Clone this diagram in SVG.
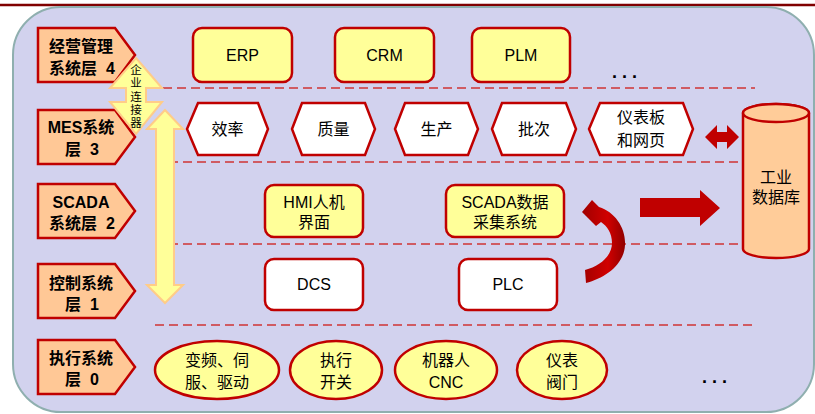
<svg xmlns="http://www.w3.org/2000/svg" width="815" height="414" viewBox="0 0 815 414">
<style>
text{font-family:"Liberation Sans","Noto Sans CJK SC",sans-serif;fill:#000;text-anchor:middle}
.lt{font-size:16px;font-weight:bold;white-space:pre}
.nt{font-size:16px}
.dots{font-size:18px;font-weight:bold;letter-spacing:5px}
.lbl{fill:#FFC896;stroke:#C00000;stroke-width:2.5;stroke-linejoin:miter}
.yb{fill:#FFFF99;stroke:#C00000;stroke-width:2.5}
.wb{fill:#FFFFFF;stroke:#C00000;stroke-width:2.5}
.dash{stroke:#D03535;stroke-width:1.5;stroke-dasharray:9 5;fill:none}
.ya{fill:#FFFF99;stroke:#FFCC88;stroke-width:2}
.ra{fill:#C00000}
</style>
<defs>
<linearGradient id="cg" x1="0" y1="0" x2="1" y2="0">
<stop offset="0" stop-color="#A00000"/><stop offset="0.6" stop-color="#D00000"/><stop offset="1" stop-color="#900000"/>
</linearGradient>
</defs>
<rect x="0" y="0" width="815" height="414" fill="#FFFFFF"/>
<line x1="0" y1="5" x2="815" y2="5" stroke="#800000" stroke-width="2.5"/>
<rect id="bg" x="13" y="7" width="801" height="405" rx="48" ry="48" fill="#D2D2EE" stroke="#8FAFAF" stroke-width="2"/>

<g id="connectors">
<line class="dash" x1="163" y1="88" x2="755" y2="88"/>
<line class="dash" x1="155" y1="162" x2="743" y2="162"/>
<line class="dash" x1="155" y1="244" x2="743" y2="244"/>
<line class="dash" x1="155" y1="325" x2="756" y2="325"/>
<polygon id="big-yellow-arrow" class="ya" points="165,110 183,129 174,129 174,285 183,285 165,303 147,285 156,285 156,129 147,129"/>
<polygon id="red-double-arrow" class="ra" points="705,137 717,125 717,132 727,132 727,125 739,137 727,149 727,142 717,142 717,149"/>
<polygon id="red-right-arrow" class="ra" points="640,198 700,198 700,190 720,208 700,226 700,217 640,217"/>
<path id="curved-arrow" fill="url(#cg)" d="M582,212 L592,200 L599,207 C615,212 626,228 625,245 C624,265 605,278 586,283 L585,270 C600,266 612,256 612,243 C612,233 607,226 601,222 L596,226 Z"/>
</g>

<g id="layer4">
<polygon class="lbl" points="38,28 115,28 135,55 115,82 38,82"/>
<text class="lt" x="81" y="52">经营管理</text>
<text class="lt" x="82" y="74">系统层  4</text>
</g>
<g id="layer3">
<polygon class="lbl" points="38,110 115,110 135,137 115,164 38,164"/>
<text class="lt" x="81" y="133">MES系统</text>
<text class="lt" x="82" y="155">层  3</text>
</g>
<g id="layer2">
<polygon class="lbl" points="38,184 115,184 135,211 115,238 38,238"/>
<text class="lt" x="81" y="208">SCADA</text>
<text class="lt" x="82" y="229">系统层  2</text>
</g>
<g id="layer1">
<polygon class="lbl" points="38,264 115,264 135,291 115,318 38,318"/>
<text class="lt" x="81" y="289">控制系统</text>
<text class="lt" x="82" y="310">层  1</text>
</g>
<g id="layer0">
<polygon class="lbl" points="38,340 115,340 135,367 115,394 38,394"/>
<text class="lt" x="81" y="364">执行系统</text>
<text class="lt" x="82" y="385">层  0</text>
</g>

<g id="connector-enterprise">
<polygon class="ya" points="136,58 162,88 146,88 146,102 162,102 136,134 110,102 126,102 126,88 110,88"/>
<text x="136" y="74" font-size="11.5" fill="#333">企</text>
<text x="136" y="87" font-size="11.5" fill="#333">业</text>
<text x="136" y="101" font-size="11.5" fill="#333">连</text>
<text x="136" y="114" font-size="11.5" fill="#333">接</text>
<text x="136" y="127" font-size="11.5" fill="#333">器</text>
</g>

<g id="erp"><rect class="yb" x="193" y="28" width="99" height="54" rx="9"/><text class="nt" x="242.5" y="61">ERP</text></g>
<g id="crm"><rect class="yb" x="335" y="28" width="99" height="54" rx="9"/><text class="nt" x="384.5" y="61">CRM</text></g>
<g id="plm"><rect class="yb" x="472" y="28" width="98" height="54" rx="9"/><text class="nt" x="521" y="61">PLM</text></g>
<g id="more4"><text class="dots" x="627" y="78">...</text></g>

<g id="eff"><polygon class="wb" points="187,129 198,103 258,103 268,129 258,155 198,155"/><text class="nt" x="227.5" y="135">效率</text></g>
<g id="quality"><polygon class="wb" points="292,129 302,103 365,103 375,129 365,155 302,155"/><text class="nt" x="333.5" y="135">质量</text></g>
<g id="production"><polygon class="wb" points="395,129 405,103 468,103 478,129 468,155 405,155"/><text class="nt" x="436.5" y="135">生产</text></g>
<g id="batch"><polygon class="wb" points="492,129 502,103 566,103 576,129 566,155 502,155"/><text class="nt" x="534" y="135">批次</text></g>
<g id="dashboard"><polygon class="wb" points="589,129 600,103 683,103 693,129 683,155 600,155"/><text class="nt" x="641" y="123">仪表板</text><text class="nt" x="641" y="146">和网页</text></g>

<g id="database">
<path d="M743,113 L743,249 A33,9 0 0 0 809,249 L809,113 A33,9 0 0 0 743,113 Z" fill="#FFCC99" stroke="#C00000" stroke-width="2.5"/>
<ellipse cx="776" cy="113" rx="33" ry="9" fill="#FFCC99" stroke="#C00000" stroke-width="2.5"/>
<text class="nt" x="776" y="183">工业</text>
<text class="nt" x="776" y="203">数据库</text>
</g>

<g id="hmi"><rect class="yb" x="265" y="185" width="98" height="52" rx="9"/><text class="nt" x="314" y="208">HMI人机</text><text class="nt" x="314" y="228">界面</text></g>
<g id="scada"><rect class="yb" x="446" y="185" width="118" height="52" rx="9"/><text class="nt" x="505" y="208">SCADA数据</text><text class="nt" x="505" y="228">采集系统</text></g>

<g id="dcs"><rect class="wb" x="265" y="259" width="98" height="51" rx="9"/><text class="nt" x="314" y="290">DCS</text></g>
<g id="plc"><rect class="wb" x="459" y="259" width="98" height="51" rx="9"/><text class="nt" x="508" y="290">PLC</text></g>

<g id="drive"><ellipse class="yb" cx="217" cy="370" rx="62" ry="29"/><text class="nt" x="217" y="366">变频、伺</text><text class="nt" x="217" y="388">服、驱动</text></g>
<g id="switch"><ellipse class="yb" cx="336" cy="370" rx="46" ry="29"/><text class="nt" x="336" y="366">执行</text><text class="nt" x="336" y="388">开关</text></g>
<g id="robot"><ellipse class="yb" cx="446" cy="370" rx="51" ry="29"/><text class="nt" x="446" y="366">机器人</text><text class="nt" x="446" y="388">CNC</text></g>
<g id="valve"><ellipse class="yb" cx="562" cy="370" rx="45" ry="29"/><text class="nt" x="562" y="366">仪表</text><text class="nt" x="562" y="388">阀门</text></g>
<g id="more0"><text class="dots" x="717" y="383">...</text></g>
</svg>
